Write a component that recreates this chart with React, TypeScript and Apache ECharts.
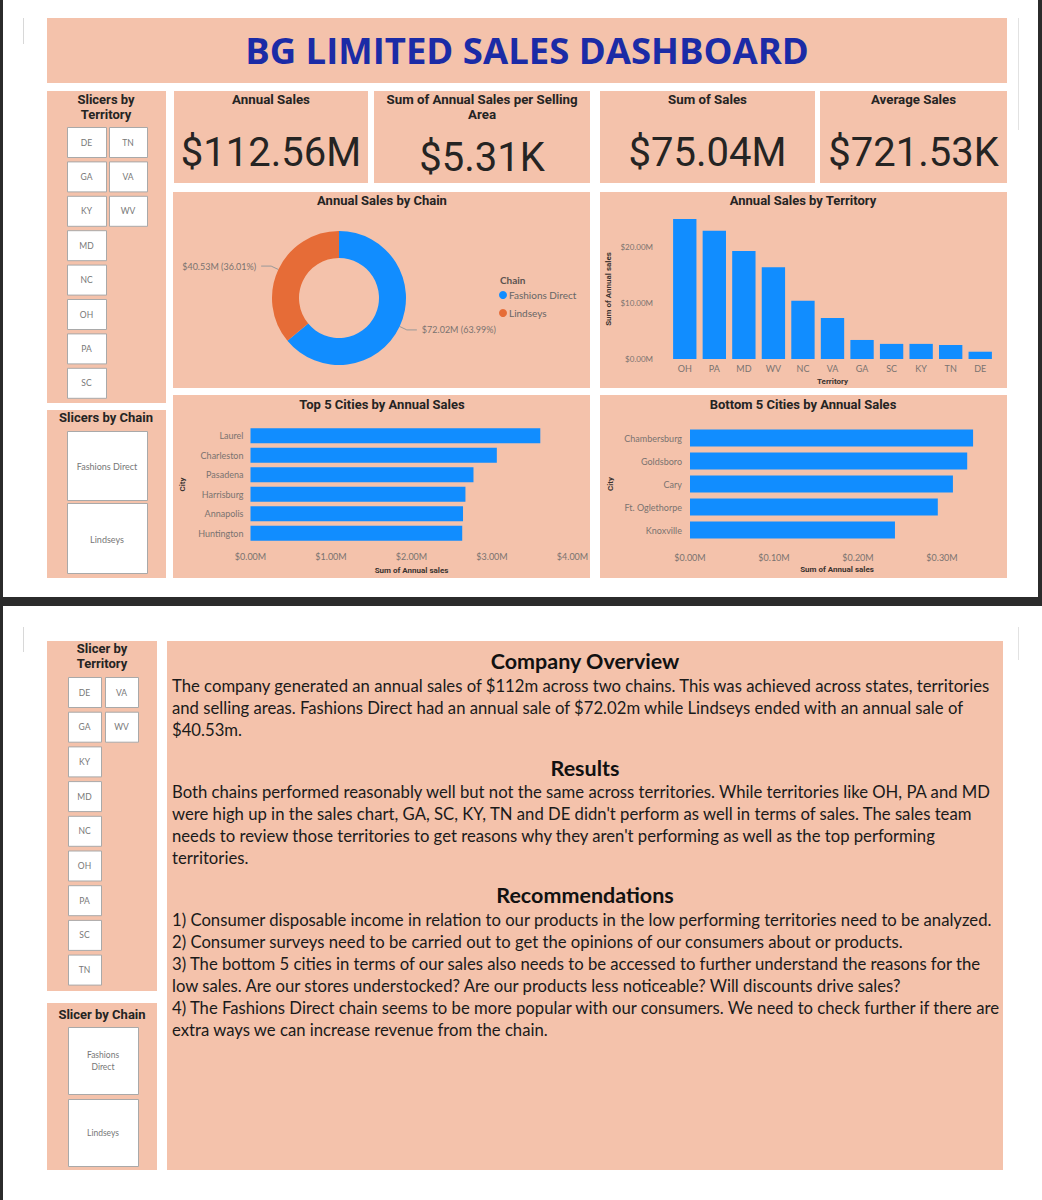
import React, { useEffect, useRef } from "react";
import * as echarts from "echarts";

// ---------- DATA ----------
const dashboardTitle = "BG LIMITED SALES DASHBOARD";

const kpiTitles = ["Annual Sales", "Sum of Annual Sales per Selling\nArea", "Sum of Sales", "Average Sales"];
const kpiValues = ["$112.56M", "$5.31K", "$75.04M", "$721.53K"];

const chains = ["Fashions Direct", "Lindseys"];
const chainSales = [72.02, 40.53];
const chainPct = [63.99, 36.01];

const territories = ["OH", "PA", "MD", "WV", "NC", "VA", "GA", "SC", "KY", "TN", "DE"];
const territorySales = [25.0, 22.9, 19.3, 16.4, 10.4, 7.3, 3.4, 2.7, 2.7, 2.5, 1.3];
const territoryTicks = [0, 10, 20];

const topCities = ["Laurel", "Charleston", "Pasadena", "Harrisburg", "Annapolis", "Huntington"];
const topCitySales = [3.6, 3.06, 2.77, 2.67, 2.64, 2.63];

const bottomCities = ["Chambersburg", "Goldsboro", "Cary", "Ft. Oglethorpe", "Knoxville"];
const bottomCitySales = [0.337, 0.33, 0.313, 0.295, 0.244];

const slicerRowsPage1 = [["DE", "TN"], ["GA", "VA"], ["KY", "WV"], ["MD"], ["NC"], ["OH"], ["PA"], ["SC"]];
const slicerRowsPage2 = [["DE", "VA"], ["GA", "WV"], ["KY"], ["MD"], ["NC"], ["OH"], ["PA"], ["SC"], ["TN"]];
const chainSlicerPage1 = ["Fashions Direct", "Lindseys"];
const chainSlicerPage2 = ["Fashions\nDirect", "Lindseys"];

const overviewLines = [
  "The company generated an annual sales of $112m across two chains. This was achieved across states, territories",
  "and selling areas. Fashions Direct had an annual sale of $72.02m while Lindseys ended with an annual sale of",
  "$40.53m.",
];
const resultsLines = [
  "Both chains performed reasonably well but not the same across territories. While territories like OH, PA and MD",
  "were high up in the sales chart, GA, SC, KY, TN and DE didn't perform as well in terms of sales. The sales team",
  "needs to review those territories to get reasons why they aren't performing as well as the top performing",
  "territories.",
];
const recLines = [
  "1) Consumer disposable income in relation to our products in the low performing territories need to be analyzed.",
  "2) Consumer surveys need to be carried out to get the opinions of our consumers about or products.",
  "3) The bottom 5 cities in terms of our sales also needs to be accessed to further understand the reasons for the",
  "low sales. Are our stores understocked? Are our products less noticeable? Will discounts drive sales?",
  "4) The Fashions Direct chain seems to be more popular with our consumers. We need to check further if there are",
  "extra ways we can increase revenue from the chain.",
];

// ---------- STYLE ----------
const W = 1042;
const H = 1200;
const PEACH = "#F4C2AB";
const BLUE = "#118DFF";
const ORANGE = "#E66C37";
const DARK = "#252423";
const GRAY = "#7a7370";
const HEAD = "Roboto, 'DejaVu Sans', sans-serif";
const BODY = "Lato, 'Open Sans', sans-serif";

function rect(x: number, y: number, w: number, h: number, fill: string, stroke?: string) {
  return {
    type: "rect",
    shape: { x, y, width: w, height: h },
    style: { fill, stroke: stroke || null, lineWidth: stroke ? 1 : 0 },
    silent: true,
  };
}

function txt(
  x: number,
  y: number,
  s: string,
  size: number,
  weight: string | number,
  color: string,
  align: string = "center",
  family: string = HEAD,
  lineHeight?: number
) {
  return {
    type: "text",
    x,
    y,
    silent: true,
    style: {
      text: s,
      fill: color,
      fontSize: size,
      fontWeight: weight,
      fontFamily: family,
      align,
      verticalAlign: "middle",
      textAlign: align,
      textVerticalAlign: "middle",
      lineHeight: lineHeight || Math.round(size * 1.2),
    },
  };
}

function vline(x: number, y1: number, y2: number, color: string) {
  return { type: "line", shape: { x1: x, y1, x2: x, y2 }, style: { stroke: color, lineWidth: 1 }, silent: true };
}

function buildGraphics() {
  const g: any[] = [];
  // frame / page separators
  g.push(rect(0, 0, 3, 597, "#2b2b2b"));
  g.push(rect(1038, 0, 4, 597, "#2b2b2b"));
  g.push(rect(0, 597, W, 9, "#2b2b2b"));
  g.push(rect(0, 606, 3, H - 606, "#2b2b2b"));
  g.push(vline(23.5, 18, 44, "#d8d8d8"));
  g.push(vline(1018.5, 18, 130, "#e2e2e2"));
  g.push(vline(23.5, 627, 652, "#d8d8d8"));
  g.push(vline(1018.5, 627, 660, "#e2e2e2"));

  // ---------- page 1 ----------
  g.push(rect(47, 18, 960, 65, PEACH));
  g.push(txt(527, 50, dashboardTitle, 36.5, "bold", "#1B2BA6", "center", "'Open Sans', sans-serif"));

  // territory slicer panel
  g.push(rect(47, 91, 119, 312, PEACH));
  g.push(txt(106, 106.5, "Slicers by\nTerritory", 13, "bold", DARK, "center", HEAD, 15));
  const colX1 = [67, 109];
  const colW1 = [39, 38];
  slicerRowsPage1.forEach((row, i) => {
    const top = 127 + i * 34.4;
    row.forEach((t, j) => {
      g.push(rect(colX1[j] + 0.5, top + 0.5, colW1[j], 30, "#ffffff", "#a9a9a9"));
      g.push(txt(colX1[j] + colW1[j] / 2, top + 15.5, t, 8.5, "normal", "#777", "center", BODY));
    });
  });
  // chain slicer panel
  g.push(rect(47, 410, 119, 168, PEACH));
  g.push(txt(106, 417, "Slicers by Chain", 13, "bold", DARK));
  const chainBoxes1 = [[431, 69], [503, 70]];
  chainSlicerPage1.forEach((c, i) => {
    g.push(rect(67.5, chainBoxes1[i][0] + 0.5, 80, chainBoxes1[i][1], "#ffffff", "#a9a9a9"));
    g.push(txt(107, chainBoxes1[i][0] + chainBoxes1[i][1] / 2 + 1, c, 9, "normal", "#777", "center", BODY));
  });

  // KPI cards
  const kpiX = [[174, 368], [374, 590], [600, 815], [820, 1007]];
  kpiX.forEach(([a, b], i) => {
    g.push(rect(a, 91, b - a, 92, PEACH));
    const multi = kpiTitles[i].indexOf("\n") >= 0;
    g.push(txt((a + b) / 2, multi ? 106.5 : 99, kpiTitles[i], 13.3, "bold", DARK, "center", HEAD, 15));
    g.push(txt((a + b) / 2, multi ? 157 : 152, kpiValues[i], 40, "normal", DARK, "center", HEAD));
  });

  // chart panels
  g.push(rect(173, 192, 417, 196, PEACH));
  g.push(rect(600, 192, 407, 196, PEACH));
  g.push(rect(173, 395, 417, 183, PEACH));
  g.push(rect(600, 395, 407, 183, PEACH));
  g.push(txt(382, 200, "Annual Sales by Chain", 13, "bold", DARK));
  g.push(txt(803, 200, "Annual Sales by Territory", 13, "bold", DARK));
  g.push(txt(382, 404, "Top 5 Cities by Annual Sales", 13, "bold", DARK));
  g.push(txt(803, 404, "Bottom 5 Cities by Annual Sales", 13, "bold", DARK));
  g.push(txt(500, 280, "Chain", 10, "bold", "#5c5450", "left", BODY));

  // ---------- page 2 ----------
  g.push(rect(47, 641, 110, 350, PEACH));
  g.push(txt(102, 656, "Slicer by\nTerritory", 13, "bold", DARK, "center", HEAD, 14.5));
  const colX2 = [68, 105];
  const colW2 = [33, 33];
  slicerRowsPage2.forEach((row, i) => {
    const top = 677 + i * 34.7;
    row.forEach((t, j) => {
      g.push(rect(colX2[j] + 0.5, top + 0.5, colW2[j], 30, "#ffffff", "#a9a9a9"));
      g.push(txt(colX2[j] + colW2[j] / 2, top + 15.5, t, 8.5, "normal", "#777", "center", BODY));
    });
  });
  g.push(rect(47, 1003, 110, 167, PEACH));
  g.push(txt(102, 1014, "Slicer by Chain", 13, "bold", DARK));
  const chainBoxes2 = [[1027, 67], [1099, 67]];
  chainSlicerPage2.forEach((c, i) => {
    g.push(rect(68.5, chainBoxes2[i][0] + 0.5, 70, chainBoxes2[i][1], "#ffffff", "#a9a9a9"));
    g.push(txt(103, chainBoxes2[i][0] + chainBoxes2[i][1] / 2, c, 8.5, "normal", "#777", "center", BODY, 12));
  });

  // text panel
  g.push(rect(167, 641, 836, 529, PEACH));
  g.push(txt(585, 661, "Company Overview", 21.5, "bold", "#111", "center", BODY));
  overviewLines.forEach((l, i) => g.push(txt(172, 686 + i * 22, l, 16.7, "normal", "#1a1a1a", "left", BODY)));
  g.push(txt(585, 768, "Results", 21.5, "bold", "#111", "center", BODY));
  resultsLines.forEach((l, i) => g.push(txt(172, 792 + i * 22, l, 16.7, "normal", "#1a1a1a", "left", BODY)));
  g.push(txt(585, 895, "Recommendations", 21.5, "bold", "#111", "center", BODY));
  recLines.forEach((l, i) => g.push(txt(172, 920 + i * 22, l, 16.7, "normal", "#1a1a1a", "left", BODY)));
  return g;
}

const money = (v: number) => `$${v.toFixed(2)}M`;

export default function App() {
  const ref = useRef<HTMLDivElement>(null);
  useEffect(() => {
    if (!ref.current) return;
    const chart = echarts.init(ref.current, undefined, { renderer: "svg", width: W, height: H });
    const axisNameStyle = { fontSize: 8, fontWeight: "bold", color: "#3a3330", fontFamily: HEAD };
    const labelStyle = { fontSize: 9, color: GRAY, fontFamily: BODY };
    const option: any = {
      animation: false,
      backgroundColor: "#ffffff",
      graphic: { elements: buildGraphics() },
      legend: {
        data: chains,
        orient: "vertical",
        left: 499,
        top: 290,
        padding: 0,
        icon: "circle",
        itemWidth: 8,
        itemHeight: 8,
        itemGap: 8,
        textStyle: { fontSize: 10, color: "#666", fontFamily: BODY, padding: [0, 0, 0, -3] },
      },
      grid: [
        { left: 670, top: 219, width: 325, height: 140 },
        { left: 250.5, top: 426, width: 322, height: 117 },
        { left: 690, top: 426.5, width: 294, height: 115 },
      ],
      xAxis: [
        {
          gridIndex: 0,
          type: "category",
          data: territories,
          axisLine: { show: false },
          axisTick: { show: false },
          axisLabel: { ...labelStyle, margin: 5 },
          name: "Territory",
          nameLocation: "middle",
          nameGap: 18,
          nameTextStyle: axisNameStyle,
        },
        {
          gridIndex: 1,
          type: "value",
          min: 0,
          max: 4,
          interval: 1,
          splitLine: { show: false },
          axisLine: { show: false },
          axisTick: { show: false },
          axisLabel: { ...labelStyle, margin: 9, formatter: money },
          name: "Sum of Annual sales",
          nameLocation: "middle",
          nameGap: 23,
          nameTextStyle: axisNameStyle,
        },
        {
          gridIndex: 2,
          type: "value",
          min: 0,
          max: 0.35,
          interval: 0.1,
          splitLine: { show: false },
          axisLine: { show: false },
          axisTick: { show: false },
          axisLabel: { ...labelStyle, margin: 11, showMaxLabel: false, formatter: money },
          name: "Sum of Annual sales",
          nameLocation: "middle",
          nameGap: 24,
          nameTextStyle: axisNameStyle,
        },
      ],
      yAxis: [
        {
          gridIndex: 0,
          type: "value",
          min: 0,
          max: 25,
          interval: 10,
          splitLine: { show: false },
          axisLine: { show: false },
          axisTick: { show: false },
          axisLabel: {
            ...labelStyle,
            fontSize: 8,
            margin: 17,
            showMaxLabel: false,
            formatter: (v: number) => (territoryTicks.indexOf(v) >= 0 ? money(v) : ""),
          },
          name: "Sum of Annual sales",
          nameLocation: "middle",
          nameRotate: 90,
          nameGap: 58,
          nameTextStyle: axisNameStyle,
        },
        {
          gridIndex: 1,
          type: "category",
          data: topCities,
          inverse: true,
          axisLine: { show: false },
          axisTick: { show: false },
          axisLabel: { ...labelStyle, margin: 7 },
          name: "City",
          nameLocation: "middle",
          nameRotate: 90,
          nameGap: 64,
          nameTextStyle: axisNameStyle,
        },
        {
          gridIndex: 2,
          type: "category",
          data: bottomCities,
          inverse: true,
          axisLine: { show: false },
          axisTick: { show: false },
          axisLabel: { ...labelStyle, margin: 8 },
          name: "City",
          nameLocation: "middle",
          nameRotate: 90,
          nameGap: 76,
          nameTextStyle: axisNameStyle,
        },
      ],
      series: [
        {
          type: "pie",
          center: [339, 298],
          radius: [40, 67],
          startAngle: 90,
          clockwise: true,
          data: chains.map((c, i) => ({
            name: c,
            value: chainSales[i],
            itemStyle: { color: i === 0 ? BLUE : ORANGE },
          })),
          label: {
            show: true,
            position: "outside",
            fontSize: 9,
            color: GRAY,
            fontFamily: BODY,
            formatter: (p: any) => `${money(p.value)} (${chainPct[p.dataIndex].toFixed(2)}%)`,
          },
          labelLine: { show: true, length: 8, length2: 10, lineStyle: { color: "#999", width: 1 } },
        },
        {
          type: "bar",
          xAxisIndex: 0,
          yAxisIndex: 0,
          data: territorySales,
          barCategoryGap: "21%",
          itemStyle: { color: BLUE },
        },
        {
          type: "bar",
          xAxisIndex: 1,
          yAxisIndex: 1,
          data: topCitySales,
          barCategoryGap: "23%",
          itemStyle: { color: BLUE },
        },
        {
          type: "bar",
          xAxisIndex: 2,
          yAxisIndex: 2,
          data: bottomCitySales,
          barCategoryGap: "26%",
          itemStyle: { color: BLUE },
        },
      ],
    };
    chart.setOption(option);
    return () => chart.dispose();
  }, []);
  return <div ref={ref} style={{ position: "absolute", left: 0, top: 0, width: W, height: H }} />;
}
